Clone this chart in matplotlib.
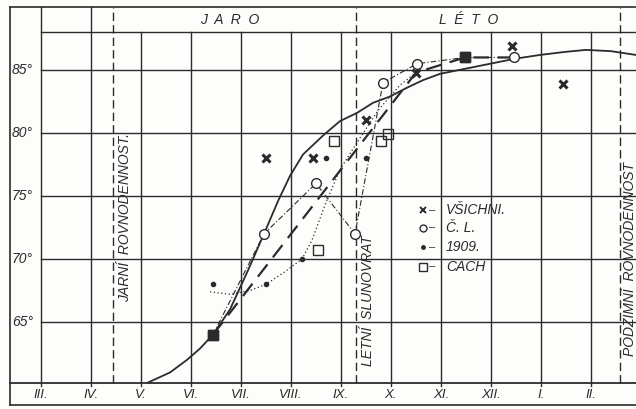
import matplotlib
matplotlib.use('Agg')
import matplotlib.pyplot as plt

plt.rcParams['font.family'] = ['Liberation Sans', 'DejaVu Sans']

# mesice na ose x (0 = III.)
mesice = ['III.', 'IV.', 'V.', 'VI.', 'VII.', 'VIII.', 'IX.', 'X.', 'XI.', 'XII.', 'I.', 'II.']
teploty = [65, 70, 75, 80, 85]

# body jednotlivych rad
vsichni_x = [3.44, 4.5, 5.44, 6.5, 7.5, 8.48, 9.42, 10.44]
vsichni_y = [64, 78, 78, 81, 84.8, 86, 86.9, 83.9]

cl_x = [3.44, 4.46, 5.5, 6.28, 6.84, 7.52, 8.48, 9.46]
cl_y = [64, 72, 76, 72, 84, 85.5, 86, 86]

r1909_x = [3.44, 4.5, 5.22, 5.7, 6.5]
r1909_y = [68, 68, 70, 78, 78]

cach_x = [3.44, 5.54, 5.86, 6.8, 6.94, 8.48]
cach_y = [64, 70.7, 79.4, 79.4, 79.9, 86]

# plna vyrovnavaci krivka
krivka_x = [2.14, 2.58, 2.92, 3.18, 3.44, 3.78, 4.14, 4.46, 4.74, 4.98, 5.24, 5.64,
            5.98, 6.32, 6.64, 6.98, 7.32, 7.64, 7.98, 8.48, 8.98, 9.48, 9.98, 10.5, 10.9, 11.4, 11.9]
krivka_y = [60.2, 61.0, 62.0, 62.9, 64.0, 66.0, 69.1, 72.0, 74.6, 76.6, 78.3, 79.8,
            80.95, 81.6, 82.4, 82.9, 83.6, 84.2, 84.7, 85.1, 85.5, 85.9, 86.2, 86.45, 86.6, 86.5, 86.2]

# carkovana primka (vsichni)
prumer_x = [3.44, 7.5, 8.48, 9.46]
prumer_y = [64, 84.8, 86, 86]

# teckovana krivka 1909
tecky_x = [3.38, 3.78, 4.18, 4.5, 4.88, 5.22, 5.42, 5.68, 5.98, 6.28, 6.74, 7.18, 7.5]
tecky_y = [67.4, 67.2, 67.5, 68.0, 69.0, 70.0, 71.5, 74.3, 77.1, 79.0, 81.8, 83.8, 84.8]

# rovnodennosti a slunovrat
hranice = [1.44, 6.3, 11.58]
hranice_txt = ['JARNÍ  ROVNODENNOST.', 'LETNÍ  SLUNOVRAT', 'PODZIMNÍ  ROVNODENNOST']

legenda = ['VŠICHNI.', 'Č. L.', '1909.', 'CACH']

barva = '#2b2b2b'
fig = plt.figure(figsize=(6.36, 4.09), dpi=100)
fig.patch.set_facecolor('#fdfdfb')
ax = fig.add_axes([0, 0, 1, 1])
ax.set_facecolor('#fdfdfb')
ax.set_xlim(-0.82, 11.9)
ax.set_ylim(58.1, 90.56)
ax.axis('off')

# ramecek a mrizka
dno, strop, vrch = 60.2, 88.0, 90.0
ax.plot([-0.62, -0.62], [58.4, vrch], color=barva, lw=1.2)
ax.plot([-0.62, 11.9], [vrch, vrch], color=barva, lw=1.2)
ax.plot([-0.62, 11.9], [58.4, 58.4], color=barva, lw=1.2)
ax.plot([-0.62, 11.9], [dno, dno], color=barva, lw=1.3)
ax.plot([0, 11.9], [strop, strop], color=barva, lw=1.0)
for t in teploty:
    ax.plot([0, 11.9], [t, t], color=barva, lw=1.0)
    ax.text(-0.58, t, f'{t}°', ha='left', va='center', fontsize=10, style='italic', color=barva)
for i, m in enumerate(mesice):
    horni = vrch if i < 2 else strop
    ax.plot([i, i], [dno - 0.25, horni], color=barva, lw=1.0)
    ax.text(i, 59.2, m, ha='center', va='center', fontsize=9.5, style='italic', color=barva)
for h in hranice:
    ax.plot([h, h], [dno, vrch], color=barva, lw=1.0, ls=(0, (6, 3)))
ax.text(1.68, 73.3, hranice_txt[0], rotation=90, ha='center', va='center', fontsize=10,
        style='italic', color=barva)
ax.text(6.53, 66.7, hranice_txt[1], rotation=90, ha='center', va='center', fontsize=10,
        style='italic', color=barva)
ax.text(11.78, 70.0, hranice_txt[2], rotation=90, ha='center', va='center', fontsize=10,
        style='italic', color=barva)
ax.text(3.78, 88.95, 'J  A  R  O', ha='center', va='center', fontsize=10, style='italic', color=barva)
ax.text(8.56, 88.95, 'L  É  T  O', ha='center', va='center', fontsize=10, style='italic', color=barva)

# krivky
ax.plot(krivka_x, krivka_y, color=barva, lw=1.3)
ax.plot(prumer_x, prumer_y, color=barva, lw=1.6, ls=(0, (7, 4)))
ax.plot(cl_x, cl_y, color=barva, lw=0.8, ls=(0, (5, 2, 1, 2)))
ax.plot(tecky_x, tecky_y, color=barva, lw=0.9, ls=(0, (1, 2)))

# body
ax.plot(vsichni_x, vsichni_y, 'x', color=barva, ms=6, mew=2.2, ls='none')
ax.plot(cl_x, cl_y, 'o', mfc='#fdfdfb', mec=barva, ms=7, mew=1.0, ls='none')
ax.plot(r1909_x, r1909_y, 'o', color=barva, ms=3, ls='none')
ax.plot(cach_x, cach_y, 's', mfc='none', mec=barva, ms=7.5, mew=1.0, ls='none')
ax.plot([cach_x[0], cach_x[-1]], [cach_y[0], cach_y[-1]], 's', color=barva, ms=7, ls='none')

# legenda
znacky = [dict(marker='x', color=barva, ms=5, mew=1.4),
          dict(marker='o', mfc='none', mec=barva, ms=5, mew=1.0),
          dict(marker='o', color=barva, ms=2.5),
          dict(marker='s', mfc='none', mec=barva, ms=5.5, mew=1.0)]
for k, (txt, zn) in enumerate(zip(legenda, znacky)):
    yy = [73.9, 72.5, 70.95, 69.4][k]
    ax.plot([7.64], [yy], ls='none', **zn)
    ax.text(7.82, yy, '–', ha='center', va='center', fontsize=8, color=barva)
    ax.text(8.1, yy, txt, ha='left', va='center', fontsize=10, style='italic', color=barva)

fig.savefig('out.png', dpi=100, facecolor=fig.get_facecolor())
